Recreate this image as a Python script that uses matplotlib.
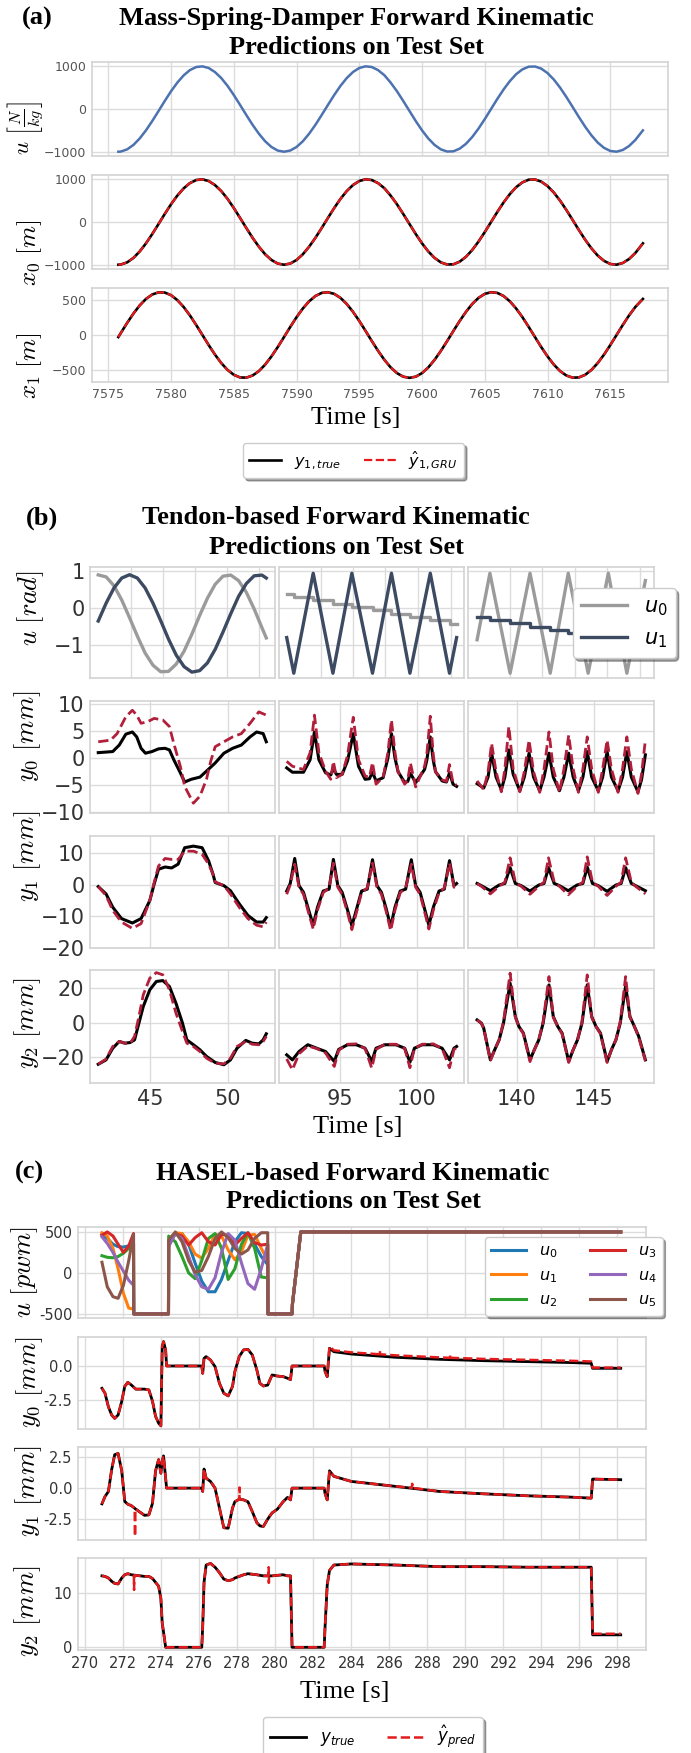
import matplotlib
matplotlib.use('Agg')
import matplotlib.pyplot as plt
from matplotlib.font_manager import FontProperties

plt.rcParams['font.family'] = ['DejaVu Sans']
plt.rcParams['mathtext.fontset'] = 'cm'

# ---------------- (a) mass-spring-damper ----------------
t_a = [7575.8, 7576, 7576.5, 7577, 7577.5, 7578, 7578.5, 7579, 7579.5, 7580, 7580.5, 7581,
       7581.5, 7582, 7582.5, 7583, 7583.5, 7584, 7584.5, 7585, 7585.5, 7586, 7586.5, 7587,
       7587.5, 7588, 7588.5, 7589, 7589.5, 7590, 7590.5, 7591, 7591.5, 7592, 7592.5, 7593,
       7593.5, 7594, 7594.5, 7595, 7595.5, 7596, 7596.5, 7597, 7597.5, 7598, 7598.5, 7599,
       7599.5, 7600, 7600.5, 7601, 7601.5, 7602, 7602.5, 7603, 7603.5, 7604, 7604.5, 7605,
       7605.5, 7606, 7606.5, 7607, 7607.5, 7608, 7608.5, 7609, 7609.5, 7610, 7610.5, 7611,
       7611.5, 7612, 7612.5, 7613, 7613.5, 7614, 7614.5, 7615, 7615.5, 7616, 7616.5, 7617,
       7617.6]
u_a = [-1000, -995, -945, -841, -690, -500, -282, -48, 189, 416, 618, 786, 910, 982, 998, 959,
       864, 724, 542, 327, 95, -142, -372, -579, -756, -889, -973, -1000, -972, -889, -756,
       -579, -372, -142, 95, 327, 541, 724, 866, 960, 999, 982, 909, 790, 617, 416, 189, -47,
       -282, -500, -690, -841, -945, -995, -990, -928, -815, -655, -458, -236, 0, 236, 458,
       654, 815, 928, 990, 995, 945, 841, 690, 500, 282, 48, -189, -415, -617, -786, -909,
       -982, -999, -959, -866, -724, -500]
x0_true = [-1000, -995, -945, -841, -690, -500, -282, -48, 189, 416, 618, 786, 910, 982, 998,
           959, 864, 724, 542, 327, 95, -142, -372, -579, -756, -889, -973, -1000, -972, -889,
           -756, -579, -372, -142, 95, 327, 541, 724, 866, 960, 999, 982, 909, 790, 617, 416,
           189, -47, -282, -500, -690, -841, -945, -995, -990, -928, -815, -655, -458, -236, 0,
           236, 458, 654, 815, 928, 990, 995, 945, 841, 690, 500, 282, 48, -189, -415, -617,
           -786, -909, -982, -999, -959, -866, -724, -500]
x0_pred = x0_true[:]
x1_true = [-30, 30, 175, 310, 428, 522, 586, 617, 614, 576, 505, 406, 284, 146, 0, -146, -284,
           -406, -505, -576, -614, -617, -586, -522, -428, -310, -175, -30, 117, 258, 383, 487,
           564, 609, 619, 595, 537, 449, 335, 203, 59, -88, -230, -359, -469, -551, -603, -620,
           -603, -551, -469, -359, -230, -88, 59, 203, 335, 449, 537, 595, 619, 609, 564, 487,
           383, 258, 117, -30, -175, -310, -428, -522, -586, -617, -614, -576, -505, -406, -284,
           -146, 0, 146, 284, 406, 522]
x1_pred = x1_true[:]

# ---------------- (b) tendon-based, three test windows ----------------
b1_tu = [41.69, 42.2, 42.7, 43.2, 43.7, 44.2, 44.7, 45.2, 45.7, 46.2, 46.7, 47.2, 47.7,
         48.2, 48.7, 49.2, 49.7, 50.2, 50.7, 51.2, 51.7, 52.2, 52.48]
b1_u0 = [0.905, 0.85, 0.61, 0.22, -0.26, -0.76, -1.22, -1.55, -1.73, -1.72, -1.52, -1.17,
         -0.71, -0.20, 0.27, 0.65, 0.87, 0.90, 0.75, 0.43, -0.02, -0.53, -0.81]
b1_u1 = [-0.35, 0.14, 0.55, 0.82, 0.91, 0.82, 0.55, 0.14, -0.34, -0.84, -1.28, -1.59,
         -1.74, -1.70, -1.49, -1.12, -0.65, -0.15, 0.32, 0.67, 0.88, 0.90, 0.82]
b2_tu = [91.54, 92.0, 93.26, 94.54, 95.77, 97.11, 98.34, 99.54, 100.86, 102.11, 102.57]
b2_u0 = [0.39, 0.30, 0.21, 0.12, 0.03, -0.06, -0.15, -0.24, -0.33, -0.42, -0.42]
b2_u1 = [-0.80, -1.77, 0.95, -1.77, 0.95, -1.77, 0.95, -1.77, 0.95, -1.77, -0.80]
b3_tu = [137.43, 138.26, 139.57, 140.86, 142.17, 143.34, 144.63, 145.94, 147.14, 148.34]
b3_u0 = [-0.86, 0.95, -1.77, 0.95, -1.77, 0.95, -1.77, 0.95, -1.77, 0.75]
b3_u1 = [-0.23, -0.32, -0.41, -0.50, -0.59, -0.68, -0.77, -0.86, -0.95, -0.95]

b1_ty0 = [41.69, 42.62, 43.04, 43.46, 43.88, 44.16, 44.44, 44.72, 45.14, 45.56, 45.98, 46.26,
          46.54, 46.96, 47.24, 47.66, 48.22, 48.64, 49.20, 49.76, 50.32, 50.88, 51.44, 51.86,
          52.28, 52.48]
b1_y0_true = [1.0, 1.2, 2.4, 4.4, 4.8, 3.9, 1.8, 0.9, 1.2, 1.7, 1.8, 1.5, -0.3, -2.7, -4.4,
              -3.9, -3.5, -2.4, -0.9, 0.9, 1.8, 2.4, 3.9, 4.8, 4.5, 3.0]
b1_ty0p = [41.69, 42.48, 42.90, 43.46, 43.88, 44.16, 44.44, 44.86, 45.28, 45.84, 46.26, 46.54,
           46.96, 47.24, 47.80, 48.22, 48.64, 48.92, 49.20, 49.76, 50.32, 50.88, 51.44, 52.00,
           52.48]
b1_y0_pred = [3.0, 3.3, 4.5, 7.6, 8.8, 7.9, 6.4, 6.7, 7.3, 7.0, 5.8, 2.7, -1.5, -5.2, -8.3,
              -7.0, -3.9, -0.5, 2.1, 3.0, 3.9, 4.5, 6.4, 8.5, 7.9]
b1_ty1 = [41.69, 42.19, 42.62, 43.18, 43.88, 44.44, 45.0, 45.28, 45.56, 45.98, 46.40, 46.82,
          47.24, 47.80, 48.36, 48.78, 49.06, 49.20, 49.76, 50.18, 50.74, 51.30, 51.86, 52.28,
          52.48]
b1_y1_true = [-0.6, -2.9, -7.1, -10.7, -12.1, -10.7, -5.0, 0.2, 4.9, 5.6, 5.3, 6.5, 11.7,
              12.2, 11.7, 7.5, 3.3, 0.7, -0.3, -1.9, -6.0, -9.7, -11.8, -11.8, -10.4]
b1_y1_pred = [-0.6, -3.4, -8.1, -11.8, -13.8, -12.3, -5.0, 0.7, 5.9, 8.3, 8.0, 8.0, 10.6,
              10.6, 9.6, 6.5, 3.3, 0.9, -0.3, -2.9, -7.1, -10.7, -12.8, -13.3, -11.8]
b1_ty2 = [41.69, 42.19, 42.62, 43.04, 43.40, 43.74, 44.02, 44.30, 44.58, 45.0, 45.42, 45.84,
          46.26, 46.68, 47.10, 47.38, 47.80, 48.22, 48.64, 49.20, 49.76, 50.18, 50.60, 51.16,
          51.58, 52.0, 52.28, 52.48]
b1_y2_true = [-24, -21.5, -14.8, -10.9, -11.9, -11.5, -10, -0.4, 9.2, 18.8, 23.6, 24.1, 20.7,
              11.1, -0.4, -10, -12.8, -15.7, -19.5, -23, -24.3, -21.5, -14.8, -10.3, -11.9,
              -12.3, -10, -6.5]
b1_y2_pred = [-24, -21, -13.8, -10.9, -11.9, -12, -8.0, 3.4, 15.9, 25.5, 28.7, 27.4, 18.8,
              5.4, -5.2, -11.9, -13.8, -16.7, -20.5, -23.4, -23.8, -20.5, -13.8, -10.9, -12.5,
              -12.8, -10.9, -8.0]

b2_ty0 = [91.54, 91.91, 92.63, 93.06, 93.34, 93.63, 94.06, 94.40, 94.57, 94.77, 95.14, 95.49,
          95.86, 96.20, 96.63, 96.91, 97.11, 97.34, 97.80, 98.11, 98.34, 98.57, 98.77, 99.20,
          99.40, 99.57, 99.91, 100.49, 100.63, 100.86, 101.06, 101.20, 101.63, 101.91, 102.11,
          102.34, 102.57]
b2_y0_true = [-1.8, -2.6, -2.6, -0.3, 4.8, -0.3, -2.7, -3.1, -1.9, -3.0, -3.0, -0.5, 4.5, -1.5,
              -3.9, -3.8, -2.6, -4.2, -3.6, 0.0, 4.5, 0.0, -2.5, -4.5, -4.3, -2.8, -4.5, -2.1,
              -0.5, 3.9, -0.5, -2.5, -4.2, -4.4, -2.7, -4.8, -5.2]
b2_y0_pred = [-0.6, -1.5, -2.1, 1.0, 7.9, 1.0, -2.4, -3.9, -0.6, -3.6, -3.0, 0.5, 7.5, -0.3,
              -3.3, -3.5, -0.8, -4.8, -3.5, 1.0, 7.0, 1.0, -2.5, -4.8, -4.0, -0.9, -5.3, -1.5,
              0.5, 7.7, 0.5, -2.5, -4.0, -4.3, -1.2, -4.6, -5.0]
b2_ty1 = [91.54, 91.77, 92.06, 92.34, 92.63, 92.91, 93.26, 93.54, 93.91, 94.29, 94.57, 94.86,
          95.14, 95.49, 95.77, 96.11, 96.40, 96.77, 97.11, 97.40, 97.69, 98.0, 98.29, 98.57,
          98.91, 99.26, 99.63, 99.91, 100.2, 100.49, 100.77, 101.06, 101.43, 101.77, 102.11,
          102.4, 102.57]
b2_y1_true = [-2.0, 0.4, 8.3, -0.3, -2.4, -7.1, -12.8, -7.1, -2.0, -1.4, 8.0, -0.3, -2.4, -8.0,
              -13.0, -7.1, -2.0, -1.4, 7.9, -0.3, -2.4, -7.6, -13.3, -7.1, -2.0, -1.4, 7.9,
              -0.3, -2.4, -7.6, -12.8, -7.1, -2.0, -1.4, 7.6, -0.3, 0.4]
b2_y1_pred = [-3.0, 0.0, 6.5, -0.8, -3.0, -8.0, -14.0, -8.0, -2.5, -1.0, 6.8, -0.8, -3.0, -8.8,
              -14.2, -8.0, -2.5, -1.0, 6.8, -0.8, -3.0, -8.5, -14.5, -8.0, -2.5, -1.0, 6.5,
              -0.8, -3.0, -8.5, -14.0, -8.0, -2.5, -1.0, 6.8, -0.8, -0.5]
b2_ty2 = [91.54, 91.91, 92.34, 92.91, 93.49, 94.06, 94.63, 94.91, 95.49, 96.06, 96.63, 97.06,
          97.34, 97.91, 98.63, 99.20, 99.54, 99.83, 100.34, 101.06, 101.63, 102.11, 102.40,
          102.57]
b2_y2_true = [-18.6, -21.5, -16.7, -12.8, -14.8, -16.7, -22.4, -15.5, -12.8, -12.8, -14.8,
              -22.4, -14.8, -12.8, -12.8, -14.8, -22.8, -14.8, -12.8, -12.8, -14.8, -21.5,
              -14.8, -13.8]
b2_y2_pred = [-21, -27.2, -18, -13.5, -15, -17.5, -25.3, -16, -12.5, -12.3, -15, -26.2, -15.5,
              -12.5, -12.5, -15, -26.0, -15, -12.5, -12.3, -15, -26.0, -15.5, -14.5]

b3_ty0 = [137.43, 137.86, 138.14, 138.37, 138.66, 139.0, 139.23, 139.49, 139.77, 140.2, 140.49,
          140.8, 141.09, 141.49, 141.77, 142.09, 142.37, 142.77, 143.06, 143.37, 143.66, 144.0,
          144.29, 144.57, 144.86, 145.29, 145.57, 145.86, 146.14, 146.57, 146.86, 147.14,
          147.43, 147.86, 148.09, 148.34]
b3_y0_true = [-4.7, -5.5, -3.5, 0.9, -3.5, -5.8, -3.5, 1.5, -3.0, -6.0, -3.5, 0.9, -3.5, -6.0,
              -3.5, 0.9, -3.5, -6.0, -3.5, 0.9, -3.5, -6.0, -3.5, 1.2, -3.5, -6.0, -3.5, 1.2,
              -3.5, -6.0, -3.5, 1.2, -3.5, -6.2, -4.0, 0.6]
b3_y0_pred = [-4.2, -5.8, -2.5, 2.7, -2.5, -6.2, -2.0, 5.8, -2.0, -6.2, -2.5, 3.3, -2.5, -6.3,
              -2.0, 4.8, -2.0, -6.3, -2.0, 4.2, -2.0, -6.3, -2.0, 3.9, -2.0, -6.3, -2.0, 3.3,
              -2.0, -6.3, -2.0, 3.9, -2.0, -6.5, -3.0, 3.3]
b3_ty1 = [137.43, 137.71, 138.29, 138.86, 139.23, 139.57, 139.91, 140.29, 140.86, 141.43,
          141.77, 142.06, 142.43, 142.77, 143.34, 143.91, 144.29, 144.57, 144.91, 145.29,
          145.86, 146.43, 146.77, 147.06, 147.43, 147.71, 148.34]
b3_y1_true = [0.4, -0.3, -1.9, -0.1, 0.4, 5.4, 0.4, -0.3, -2.0, -0.1, 0.4, 5.4, 0.4, -0.3,
              -1.9, -0.1, 0.4, 5.6, 0.4, -0.3, -2.1, -0.1, 0.4, 5.4, 0.4, -0.3, -1.9]
b3_y1_pred = [0.4, -0.5, -2.9, -0.5, 0.8, 8.5, 0.8, -0.5, -3.0, -0.5, 0.8, 8.5, 0.8, -0.5,
              -3.2, -0.5, 0.8, 8.8, 0.8, -0.5, -3.4, -0.5, 0.8, 8.5, 0.8, -0.5, -2.9]
b3_ty2 = [137.43, 137.71, 137.86, 138.29, 138.57, 138.86, 139.14, 139.57, 139.91, 140.14,
          140.43, 140.86, 141.14, 141.43, 141.71, 142.09, 142.37, 142.66, 142.94, 143.37,
          143.66, 143.94, 144.23, 144.57, 144.86, 145.14, 145.43, 145.86, 146.14, 146.43,
          146.71, 147.06, 147.34, 147.63, 147.91, 148.34]
b3_y2_true = [1.5, -0.4, -3.3, -21.5, -15.7, -10, -0.4, 22.6, 3.4, -2.3, -6.1, -21.5, -15.7,
              -10, -0.4, 21.6, 3.4, -2.3, -6.1, -22.4, -15.7, -10, -0.4, 21.6, 3.4, -2.3, -6.1,
              -22.4, -15.7, -10, -0.4, 21.0, 3.4, -2.3, -8, -21.5]
b3_y2_pred = [1.5, -0.4, -3.3, -22, -15.7, -10, 0.5, 28.4, 3.0, -2.3, -6.5, -22.5, -15.7, -10,
              0.5, 26.4, 3.0, -2.3, -6.5, -23, -15.7, -10, 0.5, 27.4, 3.0, -2.3, -6.5, -23,
              -15.7, -10, 0.5, 26.4, 3.0, -2.3, -8.5, -22]

# ---------------- (c) HASEL-based ----------------
tc_u = [270.88, 271.16, 271.46, 271.73, 272.01, 272.29, 272.54, 272.55, 274.38, 274.39, 274.74,
        275.09, 275.44, 275.78, 276.13, 276.48, 276.83, 277.17, 277.52, 277.87, 278.22, 278.56,
        278.91, 279.26, 279.60, 279.61, 280.88, 280.90, 281.34, 298.17]
u0_c = [470, 420, 350, 320, 315, 330, 360, -500, -500, 350, 480, 480, 350, 120, -100, -230,
        -230, -80, 150, 380, 490, 480, 350, 200, 100, -500, -500, -380, 500, 500]
u1_c = [490, 450, 300, 50, -250, -430, -440, -500, -500, 400, 490, 480, 380, 230, 180, 300,
        470, 450, 280, 160, 260, 460, 470, 300, 150, -500, -500, -380, 500, 500]
u2_c = [210, 190, 185, 200, 240, 300, 360, -500, -500, 450, 380, 200, 0, -70, 150, 420, 480,
        300, -80, 50, 350, 490, 300, -50, -60, -500, -500, -380, 500, 500]
u3_c = [460, 500, 450, 350, 250, 330, 480, -500, -500, 350, 480, 450, 340, 430, 490, 380, 340,
        470, 460, 340, 420, 490, 370, 340, 350, -500, -500, -380, 500, 500]
u4_c = [440, 360, 250, 130, 20, -90, -150, -500, -500, 320, 480, 420, 200, -20, -170, -200,
        -60, 250, 480, 400, 120, -130, -200, 50, 350, -500, -500, -380, 500, 500]
u5_c = [130, -170, -290, -310, -150, 150, 470, -500, -500, 400, 500, 380, 150, 10, 30, 200,
        420, 500, 430, 300, 230, 280, 420, 490, 490, -500, -500, -380, 500, 500]

tc = [270.88, 271.04, 271.22, 271.39, 271.55, 271.73, 271.92, 272.08, 272.24, 272.43, 272.66,
      273.12, 273.35, 273.54, 273.70, 273.86, 273.98, 274.05, 274.12, 274.23, 274.28, 276.13,
      276.18, 276.25, 276.36, 276.59, 276.83, 277.06, 277.29, 277.52, 277.75, 277.87, 278.10,
      278.33, 278.56, 278.79, 279.03, 279.19, 279.37, 279.60, 279.83, 280.11, 280.41, 280.64,
      280.80, 280.88, 282.57, 282.62, 282.73, 282.85, 283.08, 284.0, 286.32, 288.63, 290.95,
      293.26, 295.58, 296.62, 296.69, 298.17]
y0_c_true = [-1.64, -2.0, -3.0, -3.6, -3.85, -3.6, -2.6, -1.5, -1.2, -1.4, -1.7, -1.7, -1.76,
             -2.6, -3.7, -4.2, -4.4, 1.42, 1.79, 1.18, 0, 0, -0.54, 0.56, 0.69, 0.44, -0.05,
             -1.27, -2.0, -2.2, -1.5, -0.42, 0.69, 1.18, 1.22, 0.81, -0.3, -1.27, -1.47, -1.4,
             -0.66, -0.74, -0.78, -0.9, -1.0, 0, 0, -0.42, -0.78, 1.3, 1.05, 0.88, 0.64, 0.49,
             0.39, 0.32, 0.25, 0.2, -0.17, -0.17]
y0_c_pred = [-1.64, -2.0, -3.0, -3.6, -3.85, -3.6, -2.6, -1.5, -1.2, -1.4, -1.7, -1.7, -1.76,
             -2.6, -3.7, -4.2, -4.4, 1.42, 1.79, 1.18, 0, 0, -0.54, 0.56, 0.69, 0.44, -0.05,
             -1.27, -2.0, -2.2, -1.5, -0.42, 0.69, 1.18, 1.22, 0.81, -0.3, -1.27, -1.47, -1.4,
             -0.66, -0.74, -0.78, -0.9, -1.0, 0, 0, -0.42, -0.78, 1.45, 1.15, 1.0, 0.78, 0.63,
             0.52, 0.45, 0.38, 0.33, -0.12, -0.12]
y1_c_true = [-1.27, -0.68, -0.27, 1.49, 2.7, 2.8, 1.4, -1.08, -1.3, -1.42, -1.7, -2.2, -2.16,
             -1.22, 1.4, 2.3, 1.2, 2.2, 2.6, 0.8, 0, 0, -0.27, 1.54, 0.8, 0.54, 0, -1.6, -3.2,
             -3.24, -1.6, -1.1, -0.9, -0.95, -1.1, -1.9, -2.8, -3.05, -3.1, -2.5, -2.0, -1.7,
             -1.1, -0.75, -0.95, 0, 0, -0.46, -0.95, 1.4, 0.95, 0.54, 0.14, -0.27, -0.46,
             -0.62, -0.73, -0.81, 0.73, 0.68]
y1_c_pred = y1_c_true[:]
y2_c_true = [13.2, 13.1, 12.8, 12.2, 11.8, 11.7, 12.8, 13.4, 13.6, 13.4, 13.3, 13.1, 13.1, 12.7,
             12.0, 11.3, 9.0, 4.5, 2.8, 0, 0, 0, 3.8, 12.0, 15.2, 15.5, 14.8, 13.8, 12.6, 12.3,
             12.5, 12.8, 13.1, 13.4, 13.6, 13.5, 13.4, 13.3, 13.2, 13.2, 13.2, 13.3, 13.4, 13.2,
             13.2, 0, 0, 4.0, 11.5, 14.2, 15.2, 15.4, 15.2, 14.9, 14.9, 14.8, 14.8, 14.8, 2.3,
             2.3]
y2_c_pred = y2_c_true[:-2] + [2.5, 2.5]
# isolated spikes of the prediction
y0_spk_t = [285.49, 285.5, 285.51, 289.19, 289.2, 289.21]
y0_spk_v = [0.86, 1.12, 0.86, 0.60, 0.85, 0.60]
y1_spk_t = [272.60, 272.62, 272.64, 278.11, 278.12, 278.13, 287.19, 287.2, 287.21]
y1_spk_v = [-1.62, -3.9, -1.68, -0.9, 0.05, -0.9, 0.02, 0.35, 0.02]
y2_spk_t = [272.56, 272.57, 272.58, 279.64, 279.65, 279.66, 279.67]
y2_spk_v = [13.35, 10.6, 13.3, 13.2, 14.8, 11.9, 13.2]


def with_spikes(t, v, st, sv):
    pts = sorted(zip(list(t) + st, list(v) + sv))
    return [p[0] for p in pts], [p[1] for p in pts]


W, H = 691, 1753
fig = plt.figure(figsize=(W / 100, H / 100), dpi=100)


def box(x0, y0, x1, y1):
    return [x0 / W, 1 - y1 / H, (x1 - x0) / W, (y1 - y0) / H]


def ftext(x, y, s, **kw):
    fig.text(x / W, 1 - y / H, s, **kw)


def style(ax, size, color):
    ax.set_facecolor('white')
    for s in ax.spines.values():
        s.set_color('#d3d3d3')
        s.set_linewidth(1.2)
    ax.grid(True, color='#dcdcdc', lw=1.0)
    ax.set_axisbelow(True)
    ax.tick_params(length=0, labelsize=size, labelcolor=color, pad=4)


serif = 'Liberation Serif'
RED = '#e41a1c'
CRIM = '#b11f3b'

# ================= panel (a) =================
ftext(22, 18, '(a)', fontsize=19, fontweight='bold', family=serif, ha='left', va='center')
ftext(356, 18, 'Mass-Spring-Damper Forward Kinematic', fontsize=19, fontweight='bold',
      family=serif, ha='center', va='center')
ftext(356, 48, 'Predictions on Test Set', fontsize=19, fontweight='bold', family=serif,
      ha='center', va='center')

a_rows = [(62, 156), (175, 269), (288, 382)]
axa = [fig.add_axes(box(92, y0, 668, y1)) for y0, y1 in a_rows]
axa[0].plot(t_a, u_a, color='#4c72b0', lw=1.8)
axa[1].plot(t_a, x0_true, color='black', lw=1.9)
axa[1].plot(t_a, x0_pred, color=RED, lw=1.6, ls='--')
la_true, = axa[2].plot(t_a, x1_true, color='black', lw=1.9)
la_pred, = axa[2].plot(t_a, x1_pred, color=RED, lw=1.6, ls='--')
for i, ax in enumerate(axa):
    style(ax, 9, '#555555')
    ax.set_xlim(7573.7, 7619.6)
    ax.set_xticks([7575, 7580, 7585, 7590, 7595, 7600, 7605, 7610, 7615])
    if i < 2:
        ax.set_ylim(-1100, 1100)
        ax.set_yticks([-1000, 0, 1000])
        ax.tick_params(labelbottom=False)
    else:
        ax.set_ylim(-680, 680)
        ax.set_yticks([-500, 0, 500])
ftext(26, 128, r'$u\ \left[\frac{N}{kg}\right]$', fontsize=16.5, rotation=90, ha='center',
      va='center')
ftext(30, 253, r'$x_0\ [m]$', fontsize=18, rotation=90, ha='center', va='center')
ftext(30, 366, r'$x_1\ [m]$', fontsize=18, rotation=90, ha='center', va='center')
ftext(356, 418, 'Time [s]', fontsize=19, family=serif, ha='center', va='center')
fig.legend([la_true, la_pred], [r'$y_{1,true}$', r'$\hat{y}_{1,GRU}$'], loc='upper left',
           bbox_to_anchor=(243 / W, 1 - 443 / H), ncol=2, fancybox=True, shadow=True,
           framealpha=1, edgecolor='#cccccc', borderaxespad=0, handlelength=2.0,
           columnspacing=1.4, prop=FontProperties(size=11.5, math_fontfamily='dejavusans'))

# ================= panel (b) =================
ftext(26, 518, '(b)', fontsize=19, fontweight='bold', family=serif, ha='left', va='center')
ftext(336, 518, 'Tendon-based Forward Kinematic', fontsize=19, fontweight='bold', family=serif,
      ha='center', va='center')
ftext(336, 547, 'Predictions on Test Set', fontsize=19, fontweight='bold', family=serif,
      ha='center', va='center')

b_cols = [(90, 275), (279, 464), (468, 654)]
b_rows = [(567, 678), (701, 813), (836, 948), (970, 1083)]
b_xlim = [(41.16, 53.04), (91.04, 103.05), (136.84, 148.9)]
b_xt = [[45, 50], [95, 100], [140, 145]]
b_ugrid = [[43.8, 45.85, 47.9, 49.95, 52.0], [93.77, 95.85, 97.93, 100.05, 102.2],
           [139.57, 141.65, 143.79, 145.87, 148.0]]
b_ylim = [(-1.9, 1.12), (-10.1, 10.5), (-20.0, 15.4), (-34.8, 30.2)]
b_yt = [[-1, 0, 1], [-10, -5, 0, 5, 10], [-20, -10, 0, 10], [-20, 0, 20]]

b_u = [(b1_tu, b1_u0, b1_u1), (b2_tu, b2_u0, b2_u1), (b3_tu, b3_u0, b3_u1)]
b_y = [
    [(b1_ty0, b1_y0_true, b1_ty0p, b1_y0_pred), (b1_ty1, b1_y1_true, b1_ty1, b1_y1_pred),
     (b1_ty2, b1_y2_true, b1_ty2, b1_y2_pred)],
    [(b2_ty0, b2_y0_true, b2_ty0, b2_y0_pred), (b2_ty1, b2_y1_true, b2_ty1, b2_y1_pred),
     (b2_ty2, b2_y2_true, b2_ty2, b2_y2_pred)],
    [(b3_ty0, b3_y0_true, b3_ty0, b3_y0_pred), (b3_ty1, b3_y1_true, b3_ty1, b3_y1_pred),
     (b3_ty2, b3_y2_true, b3_ty2, b3_y2_pred)],
]
GRAY, SLATE = '#9b9b9b', '#3c4a62'
for c, (cx0, cx1) in enumerate(b_cols):
    for r, (ry0, ry1) in enumerate(b_rows):
        ax = fig.add_axes(box(cx0, ry0, cx1, ry1))
        style(ax, 15, '#333333')
        if r == 0:
            tu, u0, u1 = b_u[c]
            if c == 0:
                l0, = ax.plot(tu, u0, color=GRAY, lw=2.4)
                l1, = ax.plot(tu, u1, color=SLATE, lw=2.4)
            elif c == 1:
                l0, = ax.plot(tu, u0, color=GRAY, lw=2.4, drawstyle='steps-post')
                l1, = ax.plot(tu, u1, color=SLATE, lw=2.4)
            else:
                l0, = ax.plot(tu, u0, color=GRAY, lw=2.4)
                l1, = ax.plot(tu, u1, color=SLATE, lw=2.4, drawstyle='steps-post')
            ax.set_xticks(b_ugrid[c])
            if c == 2:
                ax.legend([l0, l1], [r'$u_0$', r'$u_1$'], loc='upper left',
                          bbox_to_anchor=(0.565, 0.81), borderaxespad=0, fancybox=True,
                          shadow=True, framealpha=1, edgecolor='#cccccc', handlelength=2.2,
                          prop=FontProperties(size=15, math_fontfamily='dejavusans'))
        else:
            tt, yt, tp, yp = b_y[c][r - 1]
            ax.plot(tt, yt, color='black', lw=2.2)
            ax.plot(tp, yp, color=CRIM, lw=2.0, ls='--')
            ax.set_xticks(b_xt[c])
        ax.set_xlim(*b_xlim[c])
        ax.set_ylim(*b_ylim[r])
        ax.set_yticks(b_yt[r])
        if c > 0:
            ax.tick_params(labelleft=False)
        if r < 3:
            ax.tick_params(labelbottom=False)

ftext(31, 608, r'$u\ [rad]$', fontsize=19, rotation=90, ha='center', va='center')
ftext(28, 736, r'$y_0\ [mm]$', fontsize=19, rotation=90, ha='center', va='center')
ftext(28, 856, r'$y_1\ [mm]$', fontsize=19, rotation=90, ha='center', va='center')
ftext(28, 1023, r'$y_2\ [mm]$', fontsize=19, rotation=90, ha='center', va='center')
ftext(358, 1127, 'Time [s]', fontsize=19, family=serif, ha='center', va='center')

# ================= panel (c) =================
ftext(15, 1172, '(c)', fontsize=19, fontweight='bold', family=serif, ha='left', va='center')
ftext(353, 1173, 'HASEL-based Forward Kinematic', fontsize=19, fontweight='bold', family=serif,
      ha='center', va='center')
ftext(353, 1202, 'Predictions on Test Set', fontsize=19, fontweight='bold', family=serif,
      ha='center', va='center')

c_rows = [(1227, 1318), (1337, 1429), (1447, 1540), (1558, 1650)]
axc = [fig.add_axes(box(78, y0, 646, y1)) for y0, y1 in c_rows]
u_cols = ['#1f77b4', '#ff7f0e', '#2ca02c', '#d62728', '#9467bd', '#8c564b']
u_lines = []
for k, uc in enumerate([u0_c, u1_c, u2_c, u3_c, u4_c, u5_c]):
    ln, = axc[0].plot(tc_u, uc, color=u_cols[k], lw=2.2)
    u_lines.append(ln)
axc[0].legend(u_lines, [r'$u_%d$' % k for k in range(6)], ncol=2, loc='upper left',
              bbox_to_anchor=(0.7165, 0.89), borderaxespad=0, fancybox=True, shadow=True,
              framealpha=1, edgecolor='#cccccc', handlelength=2.2, columnspacing=2.0,
              prop=FontProperties(size=11.5, math_fontfamily='dejavusans'))

ys = [(y0_c_true, y0_c_pred, y0_spk_t, y0_spk_v), (y1_c_true, y1_c_pred, y1_spk_t, y1_spk_v),
      (y2_c_true, y2_c_pred, y2_spk_t, y2_spk_v)]
for k, (yt, yp, st, sv) in enumerate(ys):
    ax = axc[k + 1]
    lc_true, = ax.plot(tc, yt, color='black', lw=2.0)
    tp, vp = with_spikes(tc, yp, st, sv)
    lc_pred, = ax.plot(tp, vp, color=RED, lw=1.8, ls='--')

c_ylim = [(-550, 560), (-4.63, 2.13), (-4.19, 3.32), (-0.5, 16.5)]
c_yt = [[-500, 0, 500], [-2.5, 0.0], [-2.5, 0.0, 2.5], [0, 10]]
c_ytl = [['-500', '0', '500'], ['-2.5', '0.0'], ['-2.5', '0.0', '2.5'], ['0', '10']]
for k, ax in enumerate(axc):
    style(ax, 10.5, '#333333')
    ax.set_xlim(269.62, 299.5)
    ax.set_xticks(list(range(270, 299, 2)))
    ax.set_ylim(*c_ylim[k])
    ax.set_yticks(c_yt[k])
    ax.set_yticklabels(c_ytl[k])
    if k < 3:
        ax.tick_params(labelbottom=False)

ftext(25, 1272, r'$u\ [pwm]$', fontsize=19, rotation=90, ha='center', va='center')
ftext(30, 1382, r'$y_0\ [mm]$', fontsize=19, rotation=90, ha='center', va='center')
ftext(28.5, 1491, r'$y_1\ [mm]$', fontsize=19, rotation=90, ha='center', va='center')
ftext(27.5, 1611, r'$y_2\ [mm]$', fontsize=19, rotation=90, ha='center', va='center')
ftext(345, 1692, 'Time [s]', fontsize=19, family=serif, ha='center', va='center')
fig.legend([lc_true, lc_pred], [r'$y_{true}$', r'$\hat{y}_{pred}$'], loc='upper left',
           bbox_to_anchor=(263 / W, 1 - 1717 / H), ncol=2, fancybox=True, shadow=True,
           framealpha=1, edgecolor='#cccccc', borderaxespad=0, handlelength=2.2,
           columnspacing=1.9, prop=FontProperties(size=12, math_fontfamily='dejavusans'))

fig.savefig('out.png', dpi=100)
